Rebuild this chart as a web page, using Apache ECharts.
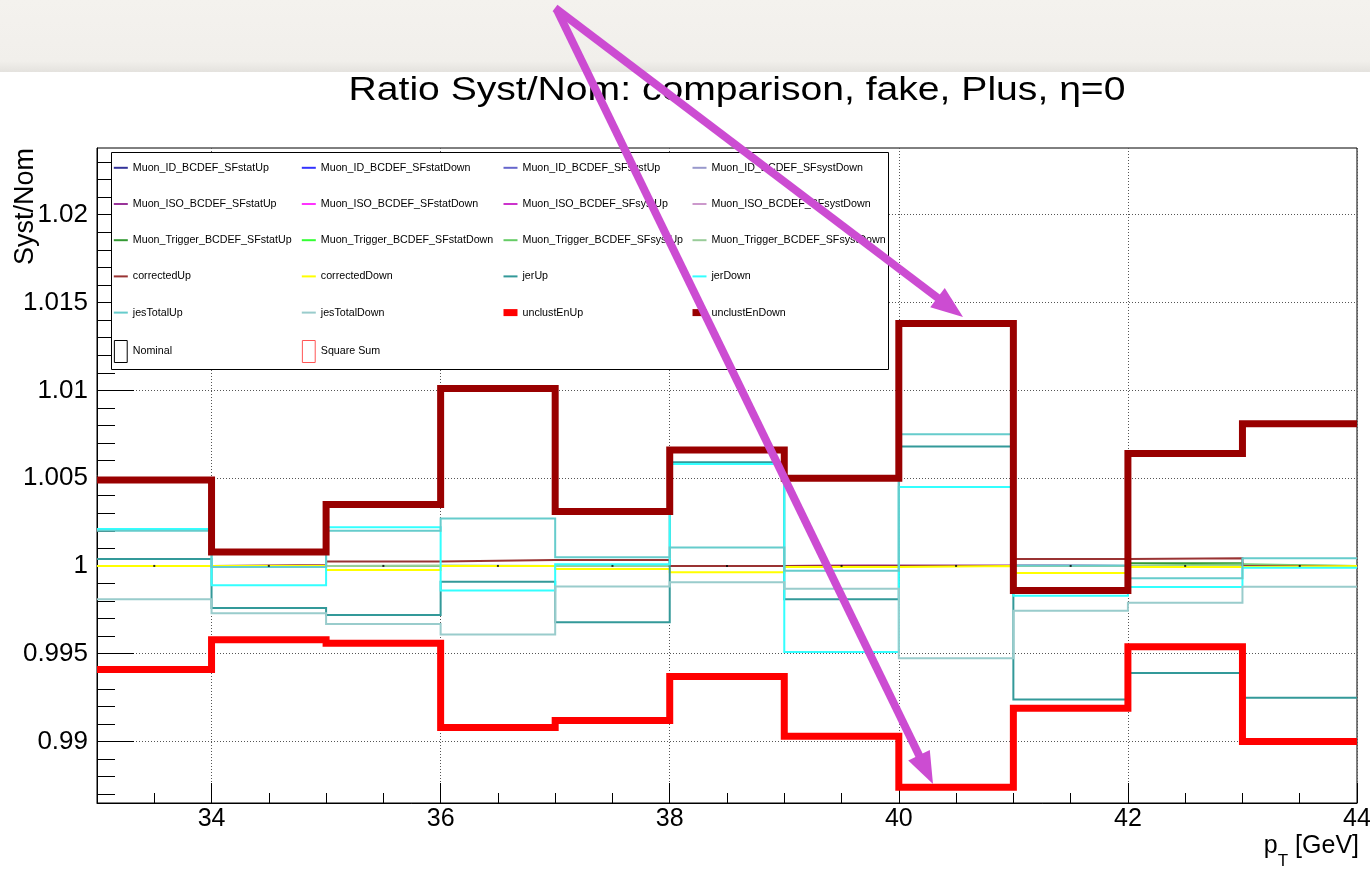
<!DOCTYPE html>
<html><head><meta charset="utf-8">
<script src="https://cdn.jsdelivr.net/npm/echarts@6/dist/echarts.min.js"></script>
<style>html,body{margin:0;padding:0;background:#fff}#c{width:1370px;height:870px}</style>
</head><body><div id="c"></div>
<script>
const FONT = 'Liberation Sans, Arial, Helvetica, sans-serif';

// ---- axes / ticks ----
const binEdges = [33, 34, 35, 36, 37, 38, 39, 40, 41, 42, 43, 44];
const xMajorTicks = [34, 36, 38, 40, 42, 44];
const yMajorTicks = [0.99, 0.995, 1, 1.005, 1.01, 1.015, 1.02];
const yMinorTicks = [0.987, 0.988, 0.989, 0.99, 0.991, 0.992, 0.993, 0.994, 0.995, 0.996, 0.997, 0.998, 0.999, 1,
  1.001, 1.002, 1.003, 1.004, 1.005, 1.006, 1.007, 1.008, 1.009, 1.01, 1.011, 1.012, 1.013, 1.014, 1.015,
  1.016, 1.017, 1.018, 1.019, 1.02, 1.021, 1.022, 1.023];

// ---- series values (one per bin, 33..44 GeV) ----
const muonIdStatUp     = [1, 1, 1, 1, 1, 1, 1, 1, 1, 1, 1];
const muonIdStatDown   = [1, 1, 1, 1, 1, 1, 1, 1, 1, 1, 1];
const muonIdSystUp     = [1, 1, 1, 1, 1, 1, 1, 1, 1, 1, 1];
const muonIdSystDown   = [1, 1, 1, 1, 1, 1, 1, 1, 1, 1, 1];
const muonIsoStatUp    = [1, 1, 1, 1, 1, 1, 1, 1, 1, 1, 1];
const muonIsoStatDown  = [1, 1, 1, 1, 1, 1, 1, 1, 1, 1, 1];
const muonIsoSystUp    = [1, 1, 1, 1, 1, 1, 1.00005, 1.00005, 1, 1, 1];
const muonIsoSystDown  = [1, 1, 1, 1, 1, 1, 1.00006, 1.00006, 1, 1, 1];
const muonTrigStatUp   = [1, 1, 1, 1, 1, 1, 1, 1, 1, 1.00015, 1];
const muonTrigStatDown = [1, 1, 1, 1, 1, 1, 1, 1, 1, 0.99995, 1];
const muonTrigSystUp   = [1, 1, 1, 1, 1, 1, 1, 1, 1, 1.0001, 1];
const muonTrigSystDown = [1, 1, 1.00002, 1, 1, 1, 1, 1, 1, 1.00002, 1];
const correctedUp   = [1.0, 1.00006, 1.00025, 1.00034, 1.00034, 1.0, 1.0, 1.0, 1.0004, 1.00044, 1.0];
const correctedDown = [1.0, 1.0, 0.99977, 1.0, 0.99983, 0.99964, 0.99994, 1.0, 0.9996, 0.99994, 1.0];
const jerUp    = [1.0004, 0.9976, 0.9972, 0.9991, 0.9968, 1.0059, 0.9981, 1.0068, 0.9924, 0.9939, 0.9925];
const jerDown  = [1.0021, 0.9989, 1.0022, 0.9986, 1.0001, 1.0058, 0.9951, 1.0045, 0.9983, 0.9988, 0.9999];
const jesTotalUp   = [1.0020, 0.99994, 1.0020, 1.0027, 1.0005, 1.00105, 0.99972, 1.0075, 1.00002, 0.9993, 1.00044];
const jesTotalDown = [0.9981, 0.9973, 0.9967, 0.9961, 0.99883, 0.99907, 0.9987, 0.99474, 0.99745, 0.99791, 0.99882];
const unclustEnUp   = [0.9941, 0.9958, 0.9956, 0.9908, 0.9912, 0.9937, 0.9903, 0.9874, 0.9919, 0.9954, 0.9900];
const unclustEnDown = [1.0049, 1.0008, 1.0035, 1.0101, 1.0031, 1.0066, 1.0050, 1.0138, 0.9986, 1.0064, 1.0081];
const nominal = [1, 1, 1, 1, 1, 1, 1, 1, 1, 1, 1];

const seriesDefs = [
  ['Muon_ID_BCDEF_SFstatUp', muonIdStatUp, '#333399', 2],
  ['Muon_ID_BCDEF_SFstatDown', muonIdStatDown, '#3333ff', 2],
  ['Muon_ID_BCDEF_SFsystUp', muonIdSystUp, '#6666cc', 2],
  ['Muon_ID_BCDEF_SFsystDown', muonIdSystDown, '#9999cc', 2],
  ['Muon_ISO_BCDEF_SFstatUp', muonIsoStatUp, '#993399', 2],
  ['Muon_ISO_BCDEF_SFstatDown', muonIsoStatDown, '#ff33ff', 2],
  ['Muon_ISO_BCDEF_SFsystUp', muonIsoSystUp, '#cc33cc', 2],
  ['Muon_ISO_BCDEF_SFsystDown', muonIsoSystDown, '#cc99cc', 2],
  ['Muon_Trigger_BCDEF_SFstatUp', muonTrigStatUp, '#339933', 2],
  ['Muon_Trigger_BCDEF_SFstatDown', muonTrigStatDown, '#33ff33', 2],
  ['Muon_Trigger_BCDEF_SFsystUp', muonTrigSystUp, '#66cc66', 2],
  ['Muon_Trigger_BCDEF_SFsystDown', muonTrigSystDown, '#99cc99', 2],
  ['correctedUp', correctedUp, '#993333', 2],
  ['correctedDown', correctedDown, '#ffff00', 2],
  ['jerUp', jerUp, '#339999', 2],
  ['jerDown', jerDown, '#33ffff', 2],
  ['jesTotalUp', jesTotalUp, '#66cccc', 2],
  ['jesTotalDown', jesTotalDown, '#99cccc', 2],
  ['unclustEnUp', unclustEnUp, '#ff0000', 7],
  ['unclustEnDown', unclustEnDown, '#990000', 7]
];

function stepData(vals) {
  const d = vals.map((v, i) => [binEdges[i], v]);
  d.push([binEdges[binEdges.length - 1], vals[vals.length - 1]]);
  return d;
}
const binCenters = binEdges.slice(0, -1).map((e, i) => (e + binEdges[i + 1]) / 2);

const series = seriesDefs.map(([name, vals, color, w]) => ({
  name, type: 'line', step: 'end', data: stepData(vals), xAxisIndex: 0, yAxisIndex: 0,
  showSymbol: false, symbol: 'none', color: color,
  lineStyle: { color: color, width: w, join: 'miter', cap: 'butt' },
  emphasis: { disabled: true }, silent: true
}));
series.push({
  name: 'Nominal', type: 'scatter', data: binCenters.map((c, i) => [c, nominal[i]]),
  symbol: 'rect', symbolSize: 2, itemStyle: { color: '#000' }, silent: true, z: 3
});
series.push({ name: 'Square Sum', type: 'line', data: [], color: '#ff5555', silent: true });

// legend items, laid out in ROOT's 4-column order
const legendItems = seriesDefs.map(([name, vals, color, w]) => ({ name, lineStyle: { width: w, color: color } }));
legendItems.push({ name: 'Nominal', icon: 'path://M0,0H14V24H0Z', itemStyle: { opacity: 1, color: '#fff', borderColor: '#000', borderWidth: 1 } });
legendItems.push({ name: 'Square Sum', icon: 'path://M0,0H14V24H0Z', itemStyle: { opacity: 1, color: '#fff', borderColor: '#ff5555', borderWidth: 1 } });
const legendColumnsX = [112, 300, 500, 689];
const legends = legendColumnsX.map((lx, col) => ({
  left: lx, top: 159, orient: 'vertical', padding: 0,
  itemWidth: 14, itemHeight: 22, itemGap: 18.6,
  selectedMode: false, z: 10,
  backgroundColor: 'transparent', borderWidth: 0,
  itemStyle: { opacity: 0 },
  textStyle: { color: '#000', fontFamily: FONT, fontSize: 10.7 },
  data: legendItems.filter((it, i) => i % 4 === col)
}));

function arrow(x1, y1, x2, y2, col) {
  const dx = x2 - x1, dy = y2 - y1, L = Math.hypot(dx, dy);
  const ux = dx / L, uy = dy / L, nx = -uy, ny = ux;
  const hl = 32, hw = 12;
  const bx = x2 - ux * hl, by = y2 - uy * hl;
  return [
    { type: 'line', z: 100, shape: { x1, y1, x2: bx + ux * 2, y2: by + uy * 2 }, style: { stroke: col, lineWidth: 8 } },
    { type: 'polygon', z: 100, shape: { points: [[x2, y2], [bx + nx * hw, by + ny * hw], [bx - nx * hw, by - ny * hw]] }, style: { fill: col } }
  ];
}
const ARROW = '#cc4cd2';

const chart = echarts.init(document.getElementById('c'), null, { renderer: 'canvas' });
chart.setOption({
  animation: false,
  backgroundColor: '#fff',
  grid: { left: 97, right: 13, top: 148, bottom: 67, show: true, borderColor: '#000', borderWidth: 1, backgroundColor: 'transparent', containLabel: false, outerBoundsMode: 'none' },
  legend: legends,
  xAxis: [
    {
      type: 'value', min: 33, max: 44, position: 'bottom',
      axisLine: { show: true, onZero: false, lineStyle: { color: '#000', width: 1 } },
      axisTick: { show: true, inside: true, length: 20, customValues: xMajorTicks, lineStyle: { color: '#000', width: 1 } },
      axisLabel: { show: true, customValues: xMajorTicks, color: '#000', fontFamily: FONT, fontSize: 25, margin: 4 },
      splitLine: { show: true, lineStyle: { color: '#555', width: 1, type: [1, 2] } },
      minorTick: { show: false }
    },
    {
      type: 'value', min: 33, max: 44, interval: 0.5, position: 'bottom',
      axisLine: { show: false },
      axisTick: { show: true, inside: true, length: 10, lineStyle: { color: '#000', width: 1 } },
      axisLabel: { show: false }, splitLine: { show: false }
    }
  ],
  yAxis: [
    {
      type: 'value', min: 0.9865, max: 1.0238, splitNumber: 7, position: 'left',
      axisLine: { show: true, onZero: false, lineStyle: { color: '#000', width: 1 } },
      axisTick: { show: true, inside: true, length: 37, customValues: yMajorTicks, lineStyle: { color: '#000', width: 1 } },
      axisLabel: { show: true, customValues: yMajorTicks, color: '#000', fontFamily: FONT, fontSize: 26, margin: 9 },
      splitLine: { show: true, lineStyle: { color: '#555', width: 1, type: [1, 2] } }
    },
    {
      type: 'value', min: 0.9865, max: 1.0238, position: 'left',
      axisLine: { show: false },
      axisTick: { show: true, inside: true, length: 18, customValues: yMinorTicks, lineStyle: { color: '#000', width: 1 } },
      axisLabel: { show: false }, splitLine: { show: false }
    }
  ],
  series: series,
  graphic: [
    { type: 'rect', z: -10, shape: { x: 0, y: 0, width: 1370, height: 72 },
      style: { fill: new echarts.graphic.LinearGradient(0, 0, 0, 1, [
        { offset: 0, color: '#f4f2ee' }, { offset: 0.85, color: '#f1efeb' }, { offset: 1, color: '#e4e2de' }]) } },
    { type: 'rect', z: 5, shape: { x: 111.5, y: 152.5, width: 777, height: 217 },
      style: { fill: '#fff', stroke: '#000', lineWidth: 1 } },
    { type: 'text', x: 737, y: 91, scaleX: 1.15, z: 20,
      style: { text: 'Ratio Syst/Nom: comparison, fake, Plus, \u03b7=0', fontSize: 34, fontFamily: FONT, fill: '#000',
        align: 'center', verticalAlign: 'middle', textAlign: 'center', textVerticalAlign: 'middle' } },
    { type: 'text', x: 26, y: 148, rotation: Math.PI / 2, z: 20,
      style: { text: 'Syst/Nom', fontSize: 27, fontFamily: FONT, fill: '#000',
        align: 'right', verticalAlign: 'middle', textAlign: 'right', textVerticalAlign: 'middle' } },
    { type: 'text', x: 1359, y: 834, z: 20,
      style: { text: '{n|p}{s|T}{n| [GeV]}', fill: '#000', align: 'right', verticalAlign: 'top', textAlign: 'right', textVerticalAlign: 'top',
        rich: {
          n: { fontSize: 25, fontFamily: FONT, lineHeight: 28, verticalAlign: 'top', fill: '#000' },
          s: { fontSize: 17, fontFamily: FONT, lineHeight: 36, verticalAlign: 'bottom', fill: '#000' }
        } } }
  ].concat(arrow(555, 8, 963, 317, ARROW)).concat(arrow(557, 10, 933, 784, ARROW))
});
</script>
</body></html>
